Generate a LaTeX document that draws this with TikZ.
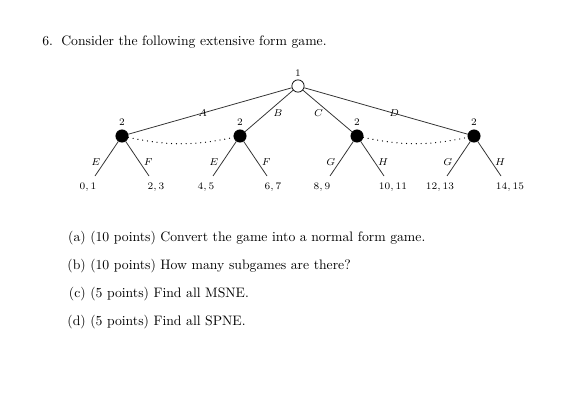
\documentclass[tikz,border=0pt]{standalone}
\usepackage{amsmath}
\usepackage{tikz}
\usetikzlibrary{positioning}

\begin{document}
\begin{tikzpicture}[x=0.7pt, y=-0.7pt,
  chance/.style={circle, draw=black, fill=white, line width=0.5pt,
                 minimum size=8.6pt, inner sep=0pt},
  mover/.style={chance, fill=black},
  branch/.style={draw=black!80, line width=0.55pt},
  infoset/.style={line width=0.9pt, line cap=round,
                  dash pattern=on 0pt off 3.4pt, bend right=12},
  act/.style={font=\scriptsize, inner sep=1pt},
  pay/.style={font=\scriptsize, inner sep=0pt},
  who/.style={font=\scriptsize, inner sep=0pt},
  txt/.style={anchor=base west, inner sep=0pt, font=\fontsize{9.6}{12}\selectfont},
  tag/.style={anchor=base east, inner sep=0pt, font=\fontsize{9.6}{12}\selectfont}
]
  \useasboundingbox (0,0) rectangle (564,416);

  % heading
  \node[txt] (num)   at (42,45) {6.};
  \node[txt] (title) at (61,45) {Consider the following extensive form game.};

  % decision nodes
  \node[chance] (root) at (298,86)  {};
  \node[mover]  (n1)   at (122,136) {};
  \node[mover]  (n2)   at (240,136) {};
  \node[mover]  (n3)   at (357,136) {};
  \node[mover]  (n4)   at (474,136) {};
  \node[who] (w0) at (298,73)  {1};
  \node[who] (w1) at (122,122) {2};
  \node[who] (w2) at (240,122) {2};
  \node[who] (w3) at (357,122) {2};
  \node[who] (w4) at (474,122) {2};

  % ends of the terminal branches
  \coordinate (t1) at (95,176);
  \coordinate (t2) at (149,176);
  \coordinate (t3) at (213,176);
  \coordinate (t4) at (267,176);
  \coordinate (t5) at (330,176);
  \coordinate (t6) at (384,176);
  \coordinate (t7) at (447,176);
  \coordinate (t8) at (501,176);

  % payoffs
  \node[pay] (p1) at (88,187)  {$0,1$};
  \node[pay] (p2) at (156,187) {$2,3$};
  \node[pay] (p3) at (206,187) {$4,5$};
  \node[pay] (p4) at (273,187) {$6,7$};
  \node[pay] (p5) at (322,187) {$8,9$};
  \node[pay] (p6) at (393,187) {$10,11$};
  \node[pay] (p7) at (440,187) {$12,13$};
  \node[pay] (p8) at (510,187) {$14,15$};

  % player 1
  \draw[branch] (root) -- node[act, pos=.545] {$A$} (n1);
  \draw[branch] (root) -- node[act, pos=.55, xshift=8pt] {$B$} (n2);
  \draw[branch] (root) -- node[act, pos=.55, xshift=-8pt] {$C$} (n3);
  \draw[branch] (root) -- node[act, pos=.55] {$D$} (n4);

  % player 2
  \draw[branch] (n1) -- node[act, pos=.6, xshift=-6pt] {$E$} (t1);
  \draw[branch] (n1) -- node[act, pos=.6, xshift=6pt]  {$F$} (t2);
  \draw[branch] (n2) -- node[act, pos=.6, xshift=-6pt] {$E$} (t3);
  \draw[branch] (n2) -- node[act, pos=.6, xshift=6pt]  {$F$} (t4);
  \draw[branch] (n3) -- node[act, pos=.6, xshift=-6pt] {$G$} (t5);
  \draw[branch] (n3) -- node[act, pos=.6, xshift=6pt]  {$H$} (t6);
  \draw[branch] (n4) -- node[act, pos=.6, xshift=-6pt] {$G$} (t7);
  \draw[branch] (n4) -- node[act, pos=.6, xshift=6pt]  {$H$} (t8);

  % information sets
  \draw[infoset] (n1) to (n2);
  \draw[infoset] (n3) to (n4);

  % questions
  \node[tag] (la) at (86,241) {(a)};
  \node[tag] (lb) at (86,269) {(b)};
  \node[tag] (lc) at (86,297) {(c)};
  \node[tag] (ld) at (86,325) {(d)};
  \node[txt] (qa) at (90,241) {(10 points) Convert the game into a normal form game.};
  \node[txt] (qb) at (90,269) {(10 points) How many subgames are there?};
  \node[txt] (qc) at (90,297) {(5 points) Find all MSNE.};
  \node[txt] (qd) at (90,325) {(5 points) Find all SPNE.};
\end{tikzpicture}
\end{document}
